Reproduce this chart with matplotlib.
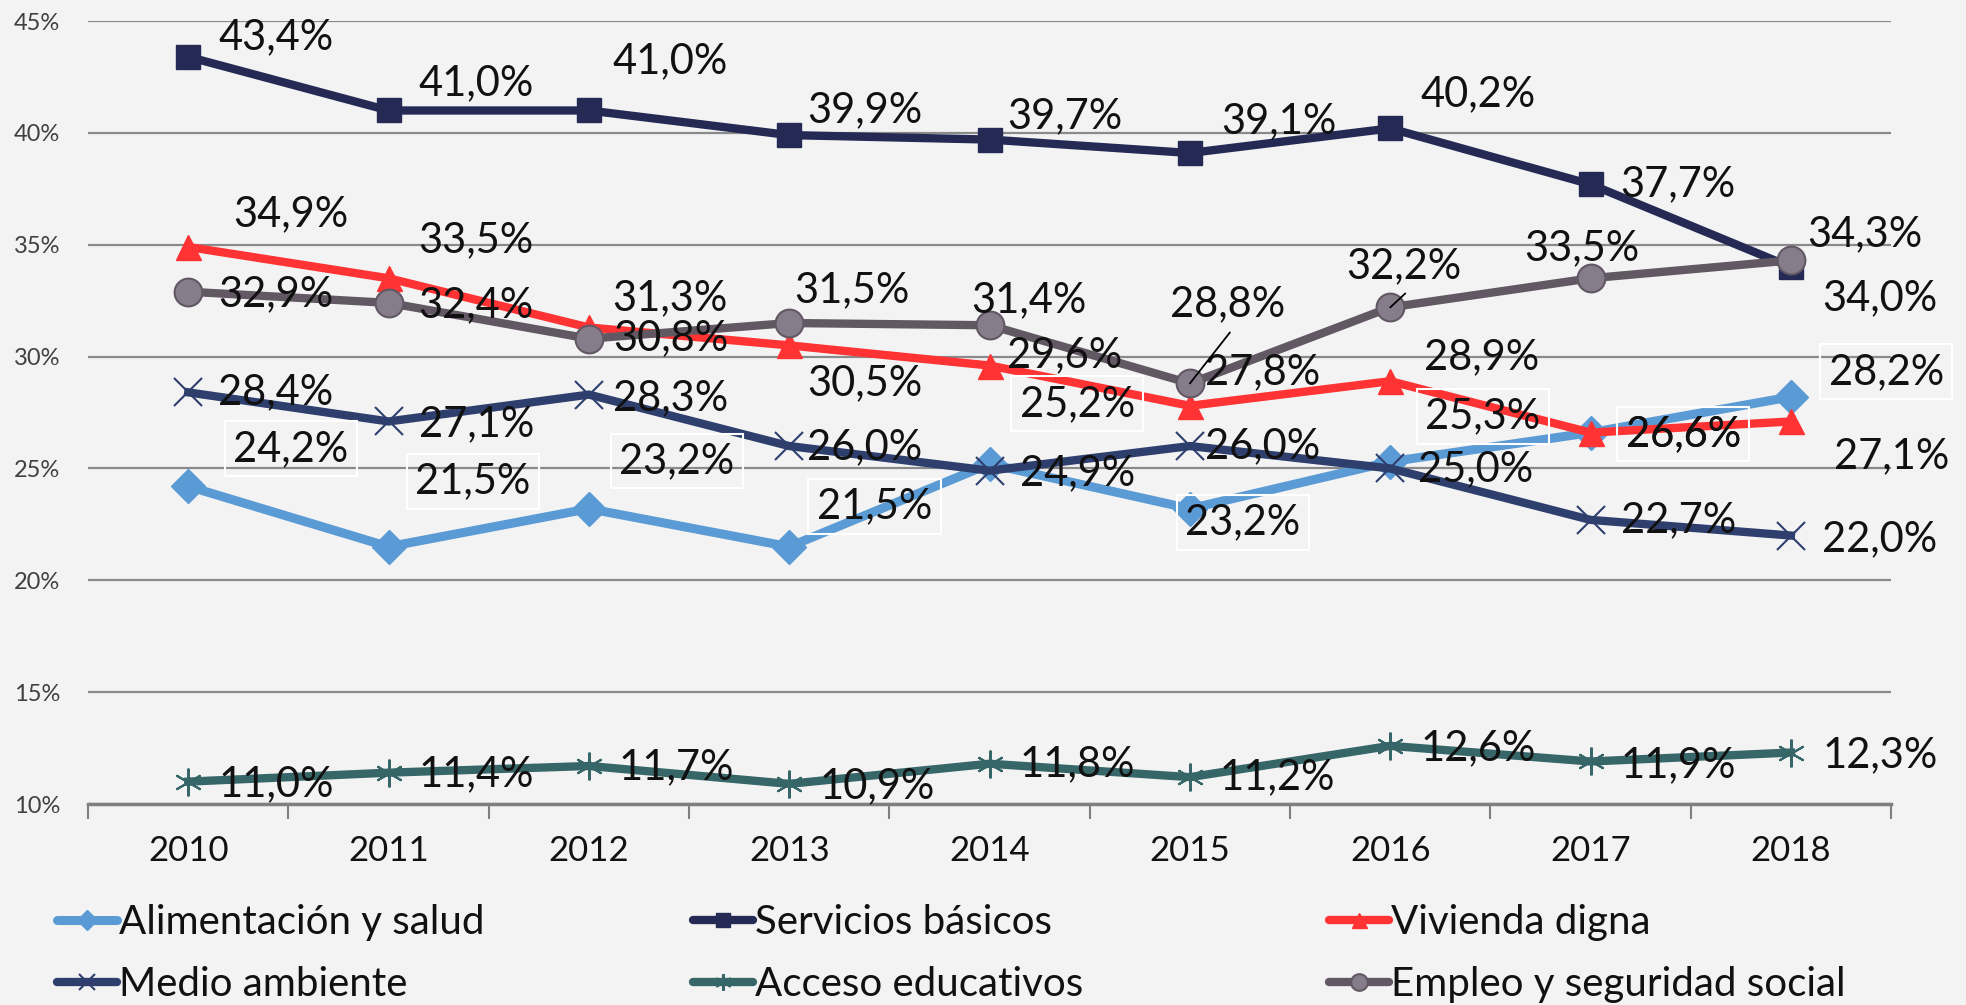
import matplotlib.pyplot as plt
import numpy as np

plt.rcParams['font.family'] = ['Lato', 'DejaVu Sans']

years = ['2010', '2011', '2012', '2013', '2014', '2015', '2016', '2017', '2018']
alimentacion = [24.2, 21.5, 23.2, 21.5, 25.2, 23.2, 25.3, 26.6, 28.2]
servicios = [43.4, 41.0, 41.0, 39.9, 39.7, 39.1, 40.2, 37.7, 34.0]
vivienda = [34.9, 33.5, 31.3, 30.5, 29.6, 27.8, 28.9, 26.6, 27.1]
medio = [28.4, 27.1, 28.3, 26.0, 24.9, 26.0, 25.0, 22.7, 22.0]
acceso = [11.0, 11.4, 11.7, 10.9, 11.8, 11.2, 12.6, 11.9, 12.3]
empleo = [32.9, 32.4, 30.8, 31.5, 31.4, 28.8, 32.2, 33.5, 34.3]

# label offsets (px in the shrunk picture, y down)
off_alim = [(82, -30), (67, -52), (70, -38), (68, -32), (70, -48), (42, 11), (74, -36), (74, 1), (76, -20)]
off_serv = [(70, -16), (70, -22), (65, -39), (60, -20), (60, -19), (71, -25), (70, -27), (70, 0), (71, 25)]
off_viv = [(82, -26), (70, -30), (65, -23), (60, 30), (60, -8), (58, -27), (73, -19), (74, 1), (80, 28)]
off_medio = [(70, 0), (70, 2), (65, 3), (60, 1), (70, 2), (58, 0), (68, 1), (70, 0), (71, 3)]
off_acceso = [(70, 2), (70, 1), (70, 1), (70, 2), (70, 0), (70, 0), (70, 2), (70, 3), (71, 2)]
off_empleo = [(70, 2), (70, 2), (65, 0), (50, -26), (31, -20), (30, -63), (11, -33), (-7, -24), (59, -21)]
# leader lines for empleo 2015 / 2016 (points, y up)
leaders = {5: (28.8, 36.7), 6: (10.8, 10.0)}

bg = '#f3f3f3'
x = np.arange(len(years))

fig = plt.figure(figsize=(19.66, 10.05), dpi=100, facecolor=bg)
ax = fig.add_axes([0.0448, 0.2, 0.9171, 0.7791], facecolor=bg)

series = [
    ('Alimentación y salud', alimentacion, off_alim,
     dict(color='#5b9bd5', lw=6.5, marker='D', ms=17, mfc='#5b9bd5', mec='#5b9bd5')),
    ('Servicios básicos', servicios, off_serv,
     dict(color='#252a55', lw=6, marker='s', ms=17, mfc='#252a55', mec='#252a55')),
    ('Vivienda digna', vivienda, off_viv,
     dict(color='#ff3333', lw=6, marker='^', ms=18, mfc='#ff3333', mec='#ff3333')),
    ('Medio ambiente', medio, off_medio,
     dict(color='#2e3f6e', lw=6, marker='x', ms=20, mew=1.5, mec='#2e3f6e')),
    ('Acceso educativos', acceso, off_acceso,
     dict(color='#376668', lw=6, marker=(6, 2, 0), ms=20, mew=1.5, mec='#376668')),
    ('Empleo y seguridad social', empleo, off_empleo,
     dict(color='#625864', lw=6, marker='o', ms=20, mfc='#877c89', mec='#625864', mew=1.5)),
]

handles = []
for i, (name, vals, offs, style) in enumerate(series):
    h, = ax.plot(x, vals, label=name, zorder=3 + i, solid_joinstyle='miter', **style)
    handles.append(h)

k = 0.9027
for name, vals, offs, style in series:
    for j, v in enumerate(vals):
        txt = f'{v:.1f}%'.replace('.', ',')
        kw = dict(ha='center', va='center', fontsize=30, color='#111111', zorder=20,
                  textcoords='offset points', xy=(x[j], v),
                  xytext=(offs[j][0] * k, -offs[j][1] * k))
        if name == 'Alimentación y salud':
            kw['bbox'] = dict(boxstyle='square,pad=0.2', fc='none', ec='white', lw=1.5)
        ax.annotate(txt, **kw)
        if name == 'Empleo y seguridad social' and j in leaders:
            ax.annotate('', xy=(x[j], v), xytext=leaders[j], textcoords='offset points',
                        zorder=21,
                        arrowprops=dict(arrowstyle='-', color='black', lw=1.3,
                                        shrinkA=0, shrinkB=0))

ax.set_xlim(-0.5, 8.5)
ax.set_ylim(10, 45)
ax.set_yticks(np.arange(10, 46, 5))
ax.set_yticklabels([f'{t}%' for t in range(10, 46, 5)])
ax.tick_params(axis='y', length=0, pad=20, labelsize=17, labelcolor='#404040')
ax.yaxis.grid(True, color='#8a8a8a', lw=1.6)
ax.set_axisbelow(True)

ax.set_xticks(np.arange(-0.5, 9, 1))
ax.set_xticklabels([])
ax.tick_params(axis='x', which='major', length=11, width=1.5, color='#7f7f7f', direction='out')
ax.set_xticks(x, minor=True)
ax.set_xticklabels(years, minor=True)
ax.tick_params(axis='x', which='minor', length=0, pad=22, labelsize=25, labelcolor='#111111')

for s in ['top', 'right', 'left']:
    ax.spines[s].set_visible(False)
ax.spines['bottom'].set_color('#7f7f7f')
ax.spines['bottom'].set_linewidth(2.5)

col_x = [0.029, 0.3525, 0.676]
for c in range(3):
    leg = fig.legend([handles[c], handles[c + 3]], [handles[c].get_label(), handles[c + 3].get_label()],
                     loc='center left', bbox_to_anchor=(col_x[c], 0.051), frameon=False,
                     fontsize=29, handlelength=1.5, handletextpad=0.05, labelspacing=0.62,
                     borderpad=0, borderaxespad=0, numpoints=1, markerscale=0.6)
    for t in leg.get_texts():
        t.set_color('#111111')
    for ln in leg.get_lines():
        ln.set_solid_capstyle('round')

fig.savefig('out.png', dpi=100, facecolor=bg)
